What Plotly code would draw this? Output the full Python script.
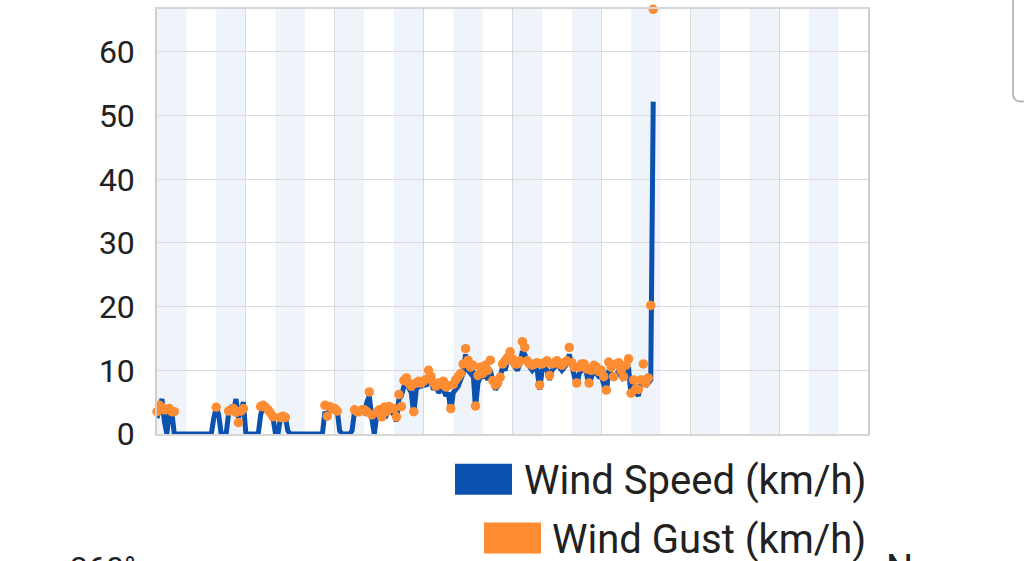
"""
Wind speed / gust chart (last 24 h)
"""

import plotly.graph_objects as go
import pandas as pd

# 5-minute readings, one row per hour
wind_speed = [
    2.5, 4.5, 5.5, 2.0, 0, 3.5, 3.5, 0, 0, 0, 0, 0,
    0, 0, 0, 0, 0, 0, 0, 0, 0, 0, 0, 2.5,
    4.2, 3.0, 0, 0, 0, 3.2, 4.0, 3.5, 5.5, 2.5, 3.5, 5.0,
    0, 0, 0, 0, 0, 0, 3.0, 4.5, 4.3, 4.0, 3.0, 2.5,
    0, 0, 2.5, 2.8, 2.7, 0.5, 0, 0, 0, 0, 0, 0,
    0, 0, 0, 0, 0, 0, 0, 0, 3.5, 2.8, 4.0, 3.8,
    3.5, 3.7, 0.5, 0, 0, 0, 0, 0.5, 3.5, 3.3, 3.6, 3.5,
    3.3, 5.0, 6.0, 2.5, 0, 2.8, 3.5, 2.5, 3.5, 3.0, 3.8, 3.5,
    3.0, 2.0, 5.5, 6.0, 7.5, 8.0, 7.0, 6.5, 3.0, 7.0, 7.5, 7.5,
    8.0, 7.5, 9.0, 8.0, 7.0, 7.5, 6.5, 7.0, 7.0, 6.0, 6.5, 3.5,
    6.5, 7.0, 7.5, 8.5, 9.5, 12.5, 10.0, 9.5, 10.0, 4.0, 8.0, 9.0,
    9.0, 9.5, 8.5, 10.0, 8.0, 7.0, 7.5, 9.0, 10.5, 10.0, 11.5, 12.0,
    11.0, 10.5, 10.0, 11.0, 13.0, 12.5, 11.0, 10.5, 10.0, 10.5, 10.0, 7.0,
    10.0, 10.5, 10.0, 8.5, 10.0, 10.5, 11.0, 10.5, 10.0, 10.5, 11.0, 12.5,
    10.5, 9.5, 7.5, 9.5, 10.0, 10.5, 9.5, 7.5, 9.0, 10.0, 9.5, 9.0,
    9.0, 8.0, 6.5, 10.0, 9.5, 8.5, 9.5, 10.0, 9.0, 8.5, 9.5, 10.5,
    6.0, 8.0, 6.5, 6.0, 8.0, 9.0, 7.5, 8.0, 8.5, 52.2,
]

N = None
wind_gust = [
    3.5, 4.5, 4.2, 3.8, N, 4.0, 3.5, 3.5, N, N, N, N,
    N, N, N, N, N, N, N, N, N, N, N, N,
    4.2, N, N, N, N, 3.6, 3.8, 4.0, 3.4, 1.8, 3.6, 4.0,
    N, N, N, N, N, N, 4.3, 4.5, 4.2, 3.8, 3.3, 2.7,
    N, N, 2.6, 2.8, 2.6, N, N, N, N, N, N, N,
    N, N, N, N, N, N, N, N, 4.5, 2.8, 4.3, 4.0,
    4.0, 3.6, N, N, N, N, N, N, 3.8, 3.5, 3.5, 3.8,
    3.8, 3.5, 6.6, 3.0, N, 3.4, 3.8, 2.7, 4.2, 3.5, 4.3, 4.0,
    4.0, 2.7, 6.2, 4.3, 8.4, 8.8, 8.0, 7.5, 3.5, 8.0, 8.3, 8.0,
    8.3, 8.6, 10.0, 9.0, 8.0, 7.5, 8.0, 7.8, 8.3, 7.4, 7.6, 4.0,
    7.8, 8.5, 9.0, 9.5, 11.0, 13.4, 11.6, 10.5, 10.8, 4.4, 9.2, 10.5,
    9.5, 10.8, 10.0, 11.6, 8.4, 7.7, 8.0, 8.9, 11.0, 11.5, 12.0, 12.9,
    11.8, 11.0, 11.0, 11.5, 14.5, 13.6, 11.5, 11.0, 10.8, 11.0, 11.2, 7.7,
    11.0, 11.2, 11.5, 9.2, 11.0, 11.2, 11.5, 11.0, 10.8, 11.2, 11.5, 13.6,
    11.2, 10.5, 8.0, 10.5, 11.0, 11.0, 10.2, 8.0, 10.0, 10.8, 10.5, 9.8,
    10.0, 9.0, 6.9, 11.3, 10.5, 9.0, 11.0, 11.2, 10.0, 9.0, 10.8, 11.8,
    6.4, 8.5, 7.1, 7.0, 8.5, 11.0, 8.0, 8.8, 20.2, 66.7,
]

y_ticks = [0, 10, 20, 30, 40, 50, 60]

SPEED_COLOR = '#0b51b0'
GUST_COLOR = '#fd8c32'
BAND_COLOR = '#eff4fa'
TEXT_COLOR = '#212121'

start = pd.Timestamp('2023-05-14 00:00')
times = pd.date_range(start=start, periods=len(wind_speed), freq='5min')

FIG_W, FIG_H = 1024, 561

# plot area in page pixels
L, R, T, B = 157, 868, 7, 434


def px_x(x):
    return (x - L) / (R - L)


def px_y(y):
    return (B - y) / (B - T)


fig = go.Figure()

fig.add_trace(go.Scatter(
    x=times, y=wind_speed, mode='lines', name='Wind Speed (km/h)',
    line=dict(color=SPEED_COLOR, width=5), cliponaxis=False,
    hoverinfo='skip'
))
fig.add_trace(go.Scatter(
    x=times, y=wind_gust, mode='markers', name='Wind Gust (km/h)',
    marker=dict(color=GUST_COLOR, size=9.5), cliponaxis=False,
    hoverinfo='skip'
))

# alternating light bands, one hour wide every two hours
shapes = []
for h in range(0, 24, 2):
    shapes.append(dict(
        type='rect', xref='x', yref='paper', layer='below',
        x0=start + pd.Timedelta(hours=h), x1=start + pd.Timedelta(hours=h + 1),
        y0=0, y1=1, fillcolor=BAND_COLOR, line=dict(width=0)
    ))

# legend drawn by hand (big square swatches)
shapes.append(dict(type='rect', xref='paper', yref='paper',
                   x0=px_x(455), x1=px_x(512), y0=px_y(495), y1=px_y(464),
                   fillcolor=SPEED_COLOR, line=dict(width=0)))
shapes.append(dict(type='rect', xref='paper', yref='paper',
                   x0=px_x(484), x1=px_x(541), y0=px_y(554), y1=px_y(523),
                   fillcolor=GUST_COLOR, line=dict(width=0)))

# edge of a panel peeking in at the top right
shapes.append(dict(
    type='path', xref='paper', yref='paper',
    path='M {a},{t} L {a},{b1} Q {a},{b} {c},{b} L {d},{b}'.format(
        a=px_x(1013), t=px_y(-5), b1=px_y(92), b=px_y(100),
        c=px_x(1021), d=px_x(1030)),
    line=dict(color='#a6a6a6', width=1.5)
))

annotations = [
    dict(text='Wind Speed (km/h)', xref='paper', yref='paper',
         x=px_x(868), y=px_y(481), xanchor='right', yanchor='middle',
         showarrow=False, font=dict(size=40, color=TEXT_COLOR)),
    dict(text='Wind Gust (km/h)', xref='paper', yref='paper',
         x=px_x(868), y=px_y(540), xanchor='right', yanchor='middle',
         showarrow=False, font=dict(size=40, color=TEXT_COLOR)),
    # labels of the next chart, cut by the bottom of the view
    dict(text='360°', xref='paper', yref='paper',
         x=px_x(138), y=px_y(548), xanchor='right', yanchor='top',
         showarrow=False, font=dict(size=32, color=TEXT_COLOR)),
    dict(text='N', xref='paper', yref='paper',
         x=px_x(884), y=px_y(546), xanchor='left', yanchor='top',
         showarrow=False, font=dict(size=38, color=TEXT_COLOR)),
]

fig.update_layout(
    width=FIG_W, height=FIG_H,
    margin=dict(l=L, r=FIG_W - R, t=T, b=FIG_H - B),
    paper_bgcolor='white', plot_bgcolor='white',
    font=dict(family='Roboto', color=TEXT_COLOR),
    showlegend=False,
    shapes=shapes,
    annotations=annotations,
)

fig.update_xaxes(
    range=[start, start + pd.Timedelta(hours=24)],
    tick0=start, dtick=3 * 3600 * 1000,
    showticklabels=False, ticks='',
    showgrid=True, gridcolor='#dadada', gridwidth=1,
    showline=True, linecolor='#d6d6d6', linewidth=1.5, mirror=True,
    zeroline=False,
)
fig.update_yaxes(
    range=[0, 66.75], tickvals=y_ticks,
    tickfont=dict(size=32, color=TEXT_COLOR),
    ticks='outside', ticklen=14, tickcolor='white',
    showgrid=True, gridcolor='#dadada', gridwidth=1,
    showline=True, linecolor='#cfcfcf', linewidth=1.5, mirror=True,
    zeroline=False,
)

# drop the default 8px body margin so the figure sits at the page corner
fig.write_html(
    "out.html",
    config={'displayModeBar': False},
    post_script="document.body.style.margin = '0px';",
)
